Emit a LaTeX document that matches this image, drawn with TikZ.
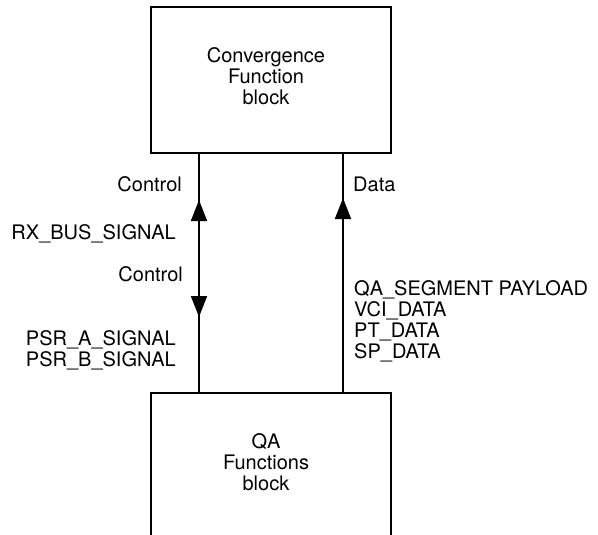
\documentclass[tikz,border=0pt]{standalone}
\usepackage{fontspec}
\setmainfont{TeX Gyre Heros}
\usetikzlibrary{arrows.meta}
\tikzset{
  blockbox/.style={draw,line width=1.8pt,minimum width=240pt,minimum height=146pt,inner sep=0pt},
  sig/.style={inner sep=0pt},
  link/.style={line width=1.8pt},
  tip/.style={-{Triangle[length=21pt,width=16pt]}}
}
\begin{document}
\begin{tikzpicture}[x=1pt,y=-1pt,font=\fontsize{20}{21}\selectfont]
\useasboundingbox (0,0) rectangle (598,535);

\node[blockbox] (conv) at (271,80) {};
\node[blockbox] (qa) at (271,466) {};
\node[sig,align=center] (convtxt) at (266,76) {Convergence\\Function\\block};
\node[sig,align=center] (qatxt) at (266,462) {QA\\Functions\\block};

\coordinate (lx) at (199,0);
\coordinate (rx) at (343,0);
\coordinate (lup) at (199,200);
\coordinate (ldn) at (199,317);
\coordinate (rup) at (343,198);

\draw[link] (conv.south -| lx) -- (qa.north -| lx);
\draw[link] (conv.south -| rx) -- (qa.north -| rx);
\draw[link,tip] (qa.north -| lx) -- (lup);
\draw[link,tip] (conv.south -| lx) -- (ldn);
\draw[link,tip] (qa.north -| rx) -- (rup);

\node[sig,anchor=base east] (ctlup) at (182,191) {Control};
\node[sig,anchor=base east] (rxbus) at (176,239) {RX\_BUS\_SIGNAL};
\node[sig,anchor=base east] (ctldn) at (183,281) {Control};
\node[sig,anchor=base east,align=right] (psr) at (176,366) {PSR\_A\_SIGNAL\\PSR\_B\_SIGNAL};

\node[sig,anchor=base west] (data) at (353,191) {Data};
\node[sig,anchor=base west,align=left] (payload) at (354,358) {QA\_SEGMENT PAYLOAD\\VCI\_DATA\\PT\_DATA\\SP\_DATA};
\end{tikzpicture}
\end{document}
